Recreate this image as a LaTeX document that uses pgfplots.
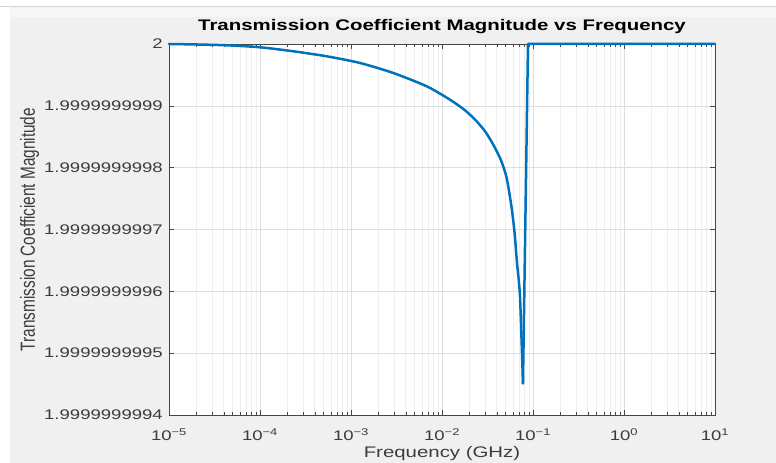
\documentclass[border=0pt]{standalone}
\usepackage{fontspec}
\setmainfont{Liberation Sans}[FakeStretch=1.33]
\newfontfamily\ylabfont{Liberation Sans}
\usepackage{graphicx}
\usepackage{pgfplots}
\pgfplotsset{compat=1.18}
\definecolor{mlblue}{RGB}{0,114,189}
\definecolor{figgray}{RGB}{240,240,240}
\definecolor{bandgray}{RGB}{246,246,246}
\definecolor{edgegray}{RGB}{212,212,212}
\definecolor{axgray}{RGB}{70,70,70}
\definecolor{txtgray}{RGB}{60,60,60}
\definecolor{majgrid}{RGB}{222,222,222}
\definecolor{mingrid}{RGB}{238,238,238}

% values are stored as (|T| - 2) * 1e10, tick labels carry the real numbers
\pgfplotstableread{
f        d
1e-5     0
2e-5    -0.008
4.31e-5 -0.021
1e-4    -0.053
2.32e-4 -0.118
5.41e-4 -0.199
1.256e-3 -0.307
2.92e-3 -0.469
6.79e-3 -0.684
0.01225 -0.901
0.01800 -1.075
0.02404 -1.251
0.03000 -1.420
0.03664 -1.629
0.0445  -1.880
0.0514  -2.168
0.0583  -2.654
0.0630  -3.080
0.0667  -3.540
0.0720  -4.090
0.0776  -5.490
}\tcurve
\pgfplotstableread{
f        d
0.0776  -5.490
0.0881   0
0.2      0
1        0
10       0
}\tjump

\begin{document}
\begin{tikzpicture}[x=1bp,y=1bp]
\useasboundingbox (0,0) rectangle (776,463);
\clip (0,0) rectangle (776,463);
\fill[white] (0,0) rectangle (776,463);
\fill[figgray] (10,0) rectangle (776,456);
\fill[bandgray] (10,446) rectangle (776,455);
\draw[edgegray, line width=1bp] (0,456) -- (776,456);
\begin{axis}[
  at={(169bp,48bp)}, anchor=south west,
  scale only axis, width=546bp, height=371bp,
  xmode=log, xmin=1e-5, xmax=10,
  ymin=-6, ymax=0,
  clip=false,
  axis background/.style={fill=white},
  xtick={1e-5,1e-4,1e-3,1e-2,1e-1,1,10},
  xticklabels={10\textsuperscript{−5},10\textsuperscript{−4},10\textsuperscript{−3},10\textsuperscript{−2},10\textsuperscript{−1},10\textsuperscript{0},10\textsuperscript{1}},
  ytick={-6,-5,-4,-3,-2,-1,0},
  yticklabels={1.9999999994,1.9999999995,1.9999999996,1.9999999997,1.9999999998,1.9999999999,2},
  grid=both,
  major grid style={majgrid, line width=0.6bp},
  minor grid style={mingrid, line width=0.6bp},
  tick align=inside,
  major tick length=5bp, minor tick length=3bp,
  tick style={axgray, line width=0.5bp},
  axis line style={axgray, line width=0.7bp},
  ticklabel style={font=\fontsize{14}{16}\selectfont, text=txtgray},
  xticklabel style={anchor=base, yshift=-26bp},
  yticklabel style={anchor=east, inner sep=0pt, xshift=-6bp},
  title={Transmission Coefficient Magnitude vs Frequency},
  title style={at={(axis description cs:0.5,1)}, anchor=base, yshift=8bp,
    font=\bfseries\fontsize{15.4}{18}\selectfont, text=black},
  xlabel={Frequency (GHz)},
  xlabel style={at={(axis description cs:0.5,0)}, anchor=base, yshift=-43bp,
    font=\fontsize{15.4}{18}\selectfont, text=txtgray},
  ylabel={\ylabfont\scalebox{1}[1.33]{Transmission Coefficient Magnitude}},
  ylabel style={at={(axis description cs:-0.2555,0.5)}, anchor=center,
    font=\fontsize{15.4}{18}\selectfont, text=txtgray},
]
\addplot[mlblue, line width=2.5bp, line join=round, line cap=round, no marks, smooth, tension=0.4] table[x=f, y=d] {\tcurve};
\addplot[mlblue, line width=2.5bp, line join=round, line cap=round, no marks] table[x=f, y=d] {\tjump};
\end{axis}
\end{tikzpicture}
\end{document}
